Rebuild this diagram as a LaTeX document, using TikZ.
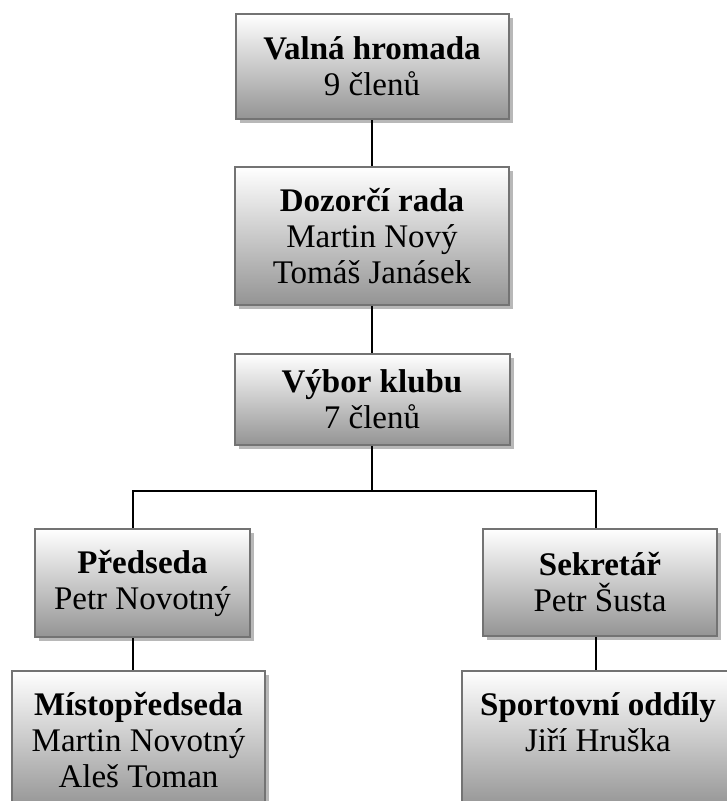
\documentclass[tikz,border=0pt]{standalone}
\usepackage{fontspec}
\setmainfont{Liberation Serif}
\usetikzlibrary{shadows}
\begin{document}
\begin{tikzpicture}[x=1pt,y=-1pt,
        orgbox/.style={draw=black!55,line width=2pt,top color=white,bottom color=black!42,
            drop shadow={shadow xshift=4pt,shadow yshift=-4pt,fill=black!28,opacity=1},
            align=center,inner sep=0pt,font=\fontsize{33}{36}\selectfont},
        link/.style={line width=2pt}]
        \useasboundingbox (0,0) rectangle (727,801);
        %% upper chain
        \node[orgbox,minimum width=273pt,minimum height=105pt] (valna) at (372,66.5)
            {\textbf{Valná hromada}\\9 členů};
        \node[orgbox,minimum width=274pt,minimum height=138pt] (dozorci) at (372,236)
            {\textbf{Dozorčí rada}\\Martin Nový\\Tomáš Janásek};
        \node[orgbox,minimum width=275pt,minimum height=91pt] (vybor) at (372,399.5)
            {\textbf{Výbor klubu}\\7 členů};
        %% second level
        \node[orgbox,minimum width=215pt,minimum height=108pt] (predseda) at (142.5,583)
            {\textbf{Předseda}\\Petr Novotný};
        \node[orgbox,minimum width=234pt,minimum height=107pt] (sekretar) at (600,582.5)
            {\textbf{Sekretář}\\Petr Šusta};
        %% bottom boxes, running off the page
        \node[orgbox,minimum width=253pt,minimum height=138pt] (mistop) at (138.5,740)
            {\textbf{Místopředseda}\\Martin Novotný\\Aleš Toman};
        \node[orgbox,minimum width=272pt,minimum height=138pt] (sportovni) at (598,740)
            {\textbf{Sportovní oddíly}\\Jiří Hruška\\\mbox{}};
        %% connectors
        \coordinate (lbranch) at (133,491);
        \coordinate (rbranch) at (596,491);
        \draw[link] (valna.south) -- (dozorci.north);
        \draw[link] (dozorci.south) -- (vybor.north);
        \draw[link] (vybor.south) |- (lbranch) -- (lbranch |- predseda.north);
        \draw[link] (lbranch) -- (rbranch) -- (rbranch |- sekretar.north);
        \draw[link] (predseda.south -| lbranch) -- (lbranch |- mistop.north);
        \draw[link] (sekretar.south -| rbranch) -- (rbranch |- sportovni.north);
    \end{tikzpicture}
\end{document}
